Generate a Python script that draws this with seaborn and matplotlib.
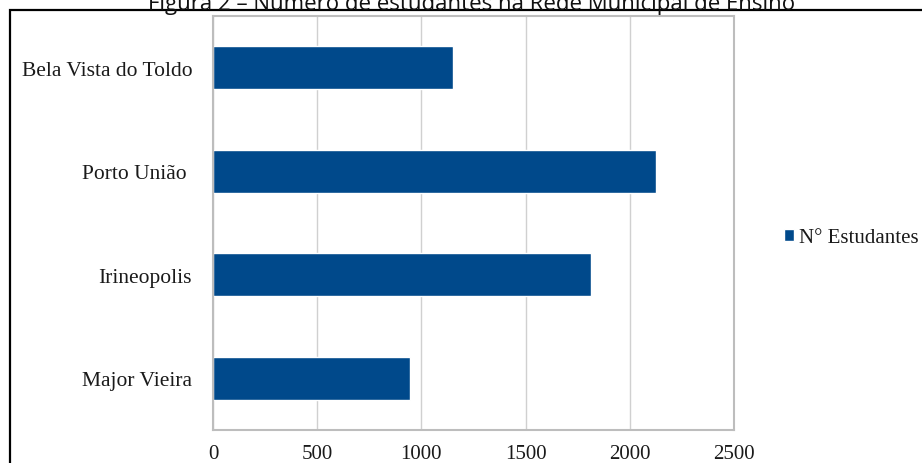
import matplotlib
matplotlib.use("Agg")
import matplotlib.pyplot as plt
import seaborn as sns
import pandas as pd
from matplotlib.patches import Rectangle

categories = ["Bela Vista do Toldo", "Porto União ", "Irineopolis", "Major Vieira"]
values = [1152, 2125, 1816, 944]
series_name = "N° Estudantes"
xticks = [0, 500, 1000, 1500, 2000, 2500]
title = "Figura 2 – Número de estudantes na Rede Municipal de Ensino"

df = pd.DataFrame({"Município": categories, "Estudantes": values, "Série": series_name})

sns.set_theme(style="white")
plt.rcParams["font.family"] = ["Liberation Serif", "DejaVu Serif"]

fig = plt.figure(figsize=(9.22, 4.64), dpi=100)
ax = fig.add_axes([213 / 922, 33 / 464, 521 / 922, 414 / 464])

sns.barplot(data=df, y="Município", x="Estudantes", hue="Série", orient="h",
            palette=["#00498b"], width=0.42, ax=ax, legend=True, saturation=1)

ax.set_xlim(0, 2500)
ax.set_ylim(3.5, -0.5)
ax.set_xticks(xticks)
ax.set_xticklabels([str(t) for t in xticks], fontsize=15, color="#1a1a1a")
ax.tick_params(axis="y", labelsize=15.5, pad=15, length=0, labelcolor="#1a1a1a")
ax.tick_params(axis="x", pad=10, length=0)
ax.set_xlabel("")
ax.set_ylabel("")
ax.xaxis.grid(True, color="#d0d0d0", linewidth=1)
ax.set_axisbelow(True)
for s in ax.spines.values():
    s.set_visible(True)
    s.set_color("#bdbdbd")
    s.set_linewidth(1.5)

leg = ax.legend(loc="center left", bbox_to_anchor=(1.06, 0.464), frameon=False,
                fontsize=15, handlelength=0.5, handleheight=0.5, handletextpad=0.2,
                labelcolor="#1a1a1a")

# outer frame of the figure (black border, partly cropped)
fig.patches.append(Rectangle((10 / 922, -0.1), 1.2, (464 - 11) / 464 + 0.1,
                             transform=fig.transFigure, fill=False,
                             edgecolor="black", linewidth=1.6))

fig.text(472 / 922, (464 - 10) / 464, title, ha="center", va="baseline",
         fontsize=16, family=["Open Sans", "DejaVu Sans"], color="#111111")

fig.savefig("out.png", dpi=100)
